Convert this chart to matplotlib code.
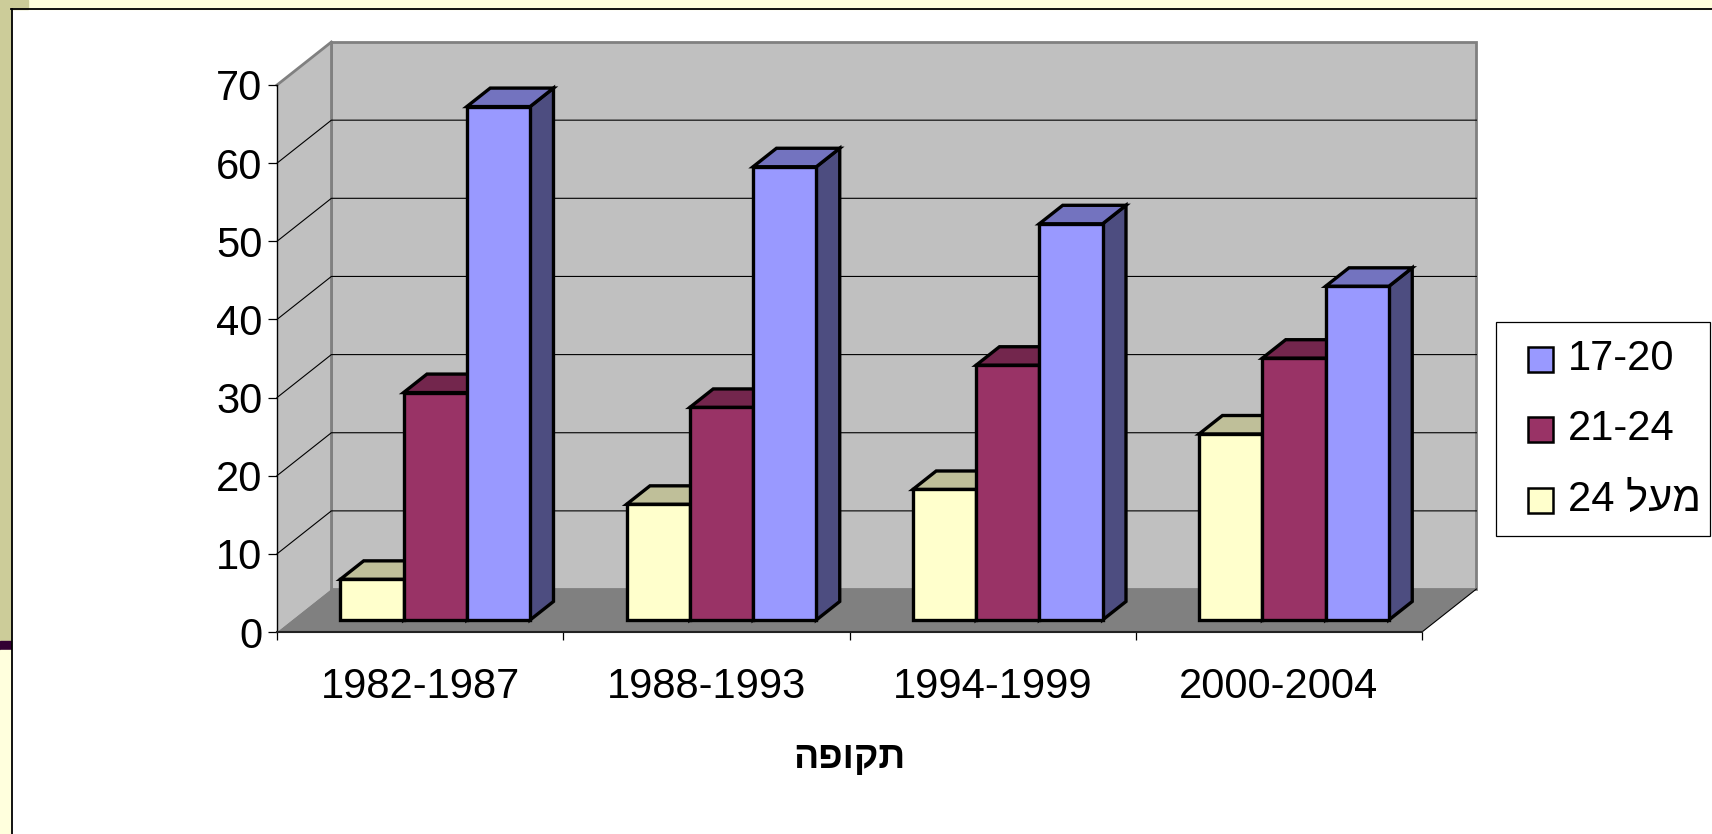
import matplotlib
matplotlib.use("Agg")
import matplotlib.pyplot as plt
from matplotlib.patches import Polygon, Rectangle
from matplotlib.lines import Line2D
from matplotlib.colors import to_rgb

# ---------------- data ----------------
categories = ["1982-1987", "1988-1993", "1994-1999", "2000-2004"]
series_labels = ["מעל 24", "21-24", "17-20"]          # drawing order (front-left to right)
values_over_24 = [5.2, 14.8, 16.7, 23.8]
values_21_24 = [29.1, 27.2, 32.6, 33.5]
values_17_20 = [65.7, 58.0, 50.7, 42.7]
y_ticks = [0, 10, 20, 30, 40, 50, 60, 70]
x_title = "תקופה"

series_values = [values_over_24, values_21_24, values_17_20]
series_colors = ["#FFFFCC", "#993366", "#9999FF"]

plt.rcParams["font.family"] = ["Liberation Sans", "DejaVu Sans"]

W_PX, H_PX = 1712, 834
fig = plt.figure(figsize=(W_PX / 100, H_PX / 100), dpi=100, facecolor="white")


def fx(px):
    return px / W_PX


def fy(py):
    return 1 - py / H_PX


def visual(s):
    """Simple visual ordering for right-to-left Hebrew text."""
    if not any("\u0590" <= ch <= "\u05FF" for ch in s):
        return s
    words = s.split(" ")[::-1]
    out = []
    for w in words:
        if any("\u0590" <= ch <= "\u05FF" for ch in w):
            out.append(w[::-1])
        else:
            out.append(w)
    return " ".join(out)


def shade(c, f):
    r, g, b = to_rgb(c)
    return (r * f, g * f, b * f)


# ---------------- slide frame decorations ----------------
deco = [
    Rectangle((0, fy(8.5)), 1, 8.5 / H_PX, color="#FFFFDD"),
    Rectangle((0, fy(8.5)), fx(28), 8.5 / H_PX, color="#CCCC99"),
    Rectangle((0, fy(641)), fx(11), (641) / H_PX, color="#CCCC99"),
    Rectangle((0, fy(650)), fx(11), 9 / H_PX, color="#330033"),
    Rectangle((0, 0), fx(11), fy(650), color="#FFFFDD"),
]
for p in deco:
    p.set_transform(fig.transFigure)
    fig.patches.append(p)
fig.lines.append(Line2D([fx(11.5), fx(11.5)], [0, fy(9)], color="black", lw=1.3,
                        transform=fig.transFigure))
fig.lines.append(Line2D([fx(11), 1], [fy(9), fy(9)], color="black", lw=1.3,
                        transform=fig.transFigure))

# ---------------- 3D-like axes ----------------
ax = fig.add_axes([fx(277), fy(632), fx(1422) - fx(277), fy(85) - fy(632)])
ax.set_xlim(0, len(categories))
ax.set_ylim(0, 70)
ax.patch.set_visible(False)

DX = 0.19   # depth offset in category units
DY = 5.5    # depth offset in value units


def P(x, y, d):
    return (x + d * DX, y + d * DY)


ncat = len(categories)
ymax = y_ticks[-1]
wall_c = "#C0C0C0"
edge_gray = "#808080"

# back wall
ax.add_patch(Polygon([P(0, 0, 1), P(ncat, 0, 1), P(ncat, ymax, 1), P(0, ymax, 1)],
                     closed=True, facecolor=wall_c, edgecolor=edge_gray, lw=2.0,
                     zorder=1, clip_on=False))
# side wall
ax.add_patch(Polygon([P(0, 0, 0), P(0, 0, 1), P(0, ymax, 1), P(0, ymax, 0)],
                     closed=True, facecolor=wall_c, edgecolor="none",
                     zorder=1, clip_on=False))
ax.add_line(Line2D(*zip(P(0, ymax, 0), P(0, ymax, 1)), color=edge_gray, lw=2.0,
                   zorder=1.5, clip_on=False))
ax.add_line(Line2D(*zip(P(0, 0, 1), P(0, ymax, 1)), color=edge_gray, lw=2.0,
                   zorder=1.5, clip_on=False))
# gridlines
for v in y_ticks[1:-1]:
    pts = [P(0, v, 0), P(0, v, 1), P(ncat, v, 1)]
    ax.add_line(Line2D([p[0] for p in pts], [p[1] for p in pts], color="black",
                       lw=0.8, zorder=2, clip_on=False))
# floor
ax.add_patch(Polygon([P(0, 0, 0), P(ncat, 0, 0), P(ncat, 0, 1), P(0, 0, 1)],
                     closed=True, facecolor="#808080", edgecolor="none",
                     zorder=3, clip_on=False))
ax.add_line(Line2D(*zip(P(ncat, 0, 0), P(ncat, 0, 1)), color="black", lw=0.8,
                   zorder=3.5, clip_on=False))

# bars
GAP = 0.168
BW = 0.221
D0, D1 = 0.28, 0.71
z = 5
for ci in range(ncat):
    for si, (vals, col) in enumerate(zip(series_values, series_colors)):
        x0 = ci + GAP + si * BW
        x1 = x0 + BW
        h = vals[ci]
        side = [P(x1, 0, D0), P(x1, 0, D1), P(x1, h, D1), P(x1, h, D0)]
        top = [P(x0, h, D0), P(x1, h, D0), P(x1, h, D1), P(x0, h, D1)]
        front = [P(x0, 0, D0), P(x1, 0, D0), P(x1, h, D0), P(x0, h, D0)]
        for poly, fc in ((side, shade(col, 0.5)), (top, shade(col, 0.75)), (front, col)):
            ax.add_patch(Polygon(poly, closed=True, facecolor=fc, edgecolor="black",
                                 lw=2.4, joinstyle="miter", zorder=z, clip_on=False))
            z += 1

# axes spines / ticks
for s in ("top", "right"):
    ax.spines[s].set_visible(False)
ax.spines["left"].set_color("black")
ax.spines["left"].set_linewidth(1.0)
ax.spines["bottom"].set_color("#222222")
ax.spines["bottom"].set_linewidth(1.5)
ax.spines["left"].set_zorder(100)
ax.spines["bottom"].set_zorder(100)

ax.set_yticks(y_ticks)
ax.set_yticklabels([str(t) for t in y_ticks])
ax.tick_params(axis="y", direction="out", length=6.5, width=0.9, pad=4,
               labelsize=30, colors="black")
ax.set_xticks(range(ncat + 1))
ax.set_xticklabels([])
ax.set_xticks([i + 0.5 for i in range(ncat)], minor=True)
ax.set_xticklabels(categories, minor=True)
ax.tick_params(axis="x", which="major", direction="out", length=6, width=0.9,
               colors="black")
ax.tick_params(axis="x", which="minor", length=0, pad=25, labelsize=30)

# axis title
fig.text(fx(849.5), fy(758), visual(x_title), ha="center", va="center",
         fontsize=27, fontweight="bold")

# legend (manual, Excel style)
fig.patches.append(Rectangle((fx(1496), fy(536)), fx(1710) - fx(1496), fy(322) - fy(536),
                             facecolor="white", edgecolor="black", lw=0.9,
                             transform=fig.transFigure))
row_y = [359, 429, 500]
for k, si in enumerate([2, 1, 0]):
    yc = row_y[k]
    fig.patches.append(Rectangle((fx(1528), fy(yc + 12.5)), fx(25), 25 / H_PX,
                                 facecolor=series_colors[si], edgecolor="black", lw=1.8,
                                 transform=fig.transFigure))
    fig.text(fx(1568), fy(yc), visual(series_labels[si]), ha="left", va="center",
             fontsize=30)

fig.savefig("out.png", dpi=100)
